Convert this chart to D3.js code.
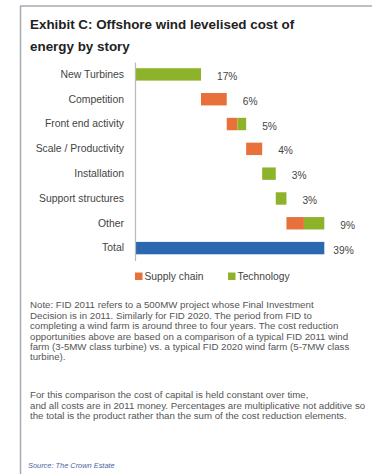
<!DOCTYPE html>
<html><head><meta charset="utf-8">
<script src="https://cdn.jsdelivr.net/npm/d3@7"></script>
<style>
body{margin:0;background:#fff;}
svg{display:block;}
</style></head>
<body>
<svg id="c" width="372" height="474"></svg>
<script>
// ---- data ----
const categories = ["New Turbines","Competition","Front end activity","Scale / Productivity","Installation","Support structures","Other","Total"];
const supplyChain = [0, 5.3, 2.2, 3.3, 0, 0, 3.6];
const technology  = [13.6, 0, 1.8, 0, 2.8, 2.2, 4.2];
const totalValue = 39;
const valueLabels = ["17%","6%","5%","4%","3%","3%","9%","39%"];
const seriesNames = ["Supply chain","Technology"];
const titleLines = ["Exhibit C: Offshore wind levelised cost of","energy by story"];
const note1 = ["Note: FID 2011 refers to a 500MW project whose Final Investment",
 "Decision is in 2011. Similarly for FID 2020. The period from FID to",
 "completing a wind farm is around three to four years. The cost reduction",
 "opportunities above are based on a comparison of a typical FID 2011 wind",
 "farm (3-5MW class turbine) vs. a typical FID 2020 wind farm (5-7MW class",
 "turbine)."];
const note2 = ["For this comparison the cost of capital is held constant over time,",
 "and all costs are in 2011 money. Percentages are multiplicative not additive so",
 "the total is the product rather than the sum of the cost reduction elements."];
const sourceText = "Source: The Crown Estate";

// ---- drawing ----
const svg = d3.select("#c");
const colors = {supply:"#e8703a", tech:"#8db32b", total:"#2c68b0"};
const font = "'Liberation Sans', Arial, sans-serif";

// frame
svg.append("line").attr("x1",20).attr("x2",372).attr("y1",6).attr("y2",6).attr("stroke","#a9a9b0").attr("stroke-width",1.5);
svg.append("line").attr("x1",20.5).attr("x2",20.5).attr("y1",6).attr("y2",474).attr("stroke","#a9a9b0").attr("stroke-width",1.5);

// title
svg.append("g").selectAll("text").data(titleLines).join("text")
  .attr("x",30).attr("y",(d,i)=>29+i*22)
  .attr("font-family",font).attr("font-weight","bold").attr("font-size",13.4)
  .attr("fill","#222").text(d=>d);

const x = d3.scaleLinear().domain([0, totalValue]).range([135, 324.3]);
const y = d3.scaleBand().domain(categories).range([62, 260.5]).paddingInner(0.5).paddingOuter(0.25);

// waterfall segments
const segs = [];
let cum = 0;
categories.slice(0,-1).forEach((c,i)=>{
  const s = supplyChain[i], t = technology[i];
  if (s>0) segs.push({c, x0:cum, x1:cum+s, col:colors.supply});
  if (t>0) segs.push({c, x0:cum+s, x1:cum+s+t, col:colors.tech});
  cum += s+t;
});
segs.push({c:"Total", x0:0, x1:totalValue, col:colors.total});

const ends = {};
segs.forEach(d=>{ ends[d.c] = Math.max(ends[d.c]||0, d.x1); });

svg.append("g").selectAll("rect").data(segs).join("rect")
  .attr("x",d=>x(d.x0)).attr("width",d=>x(d.x1)-x(d.x0))
  .attr("y",d=>y(d.c)).attr("height",y.bandwidth())
  .attr("fill",d=>d.col);

// axis (vertical line with category labels)
const ax = svg.append("g").attr("transform","translate(135,0)")
  .call(d3.axisLeft(y).tickSize(0).tickPadding(11));
ax.select(".domain").attr("stroke","#b8b8b8").attr("stroke-width",1.2);
ax.selectAll("text").attr("font-family",font).attr("font-size",10.4).attr("fill","#444");

// value labels
svg.append("g").selectAll("text").data(categories).join("text")
  .attr("x",(d,i)=> x(ends[d]) + (i===categories.length-1?9:16))
  .attr("y",d=>y(d)+y.bandwidth()/2+2)
  .attr("dy","0.35em")
  .attr("font-family",font).attr("font-size",10.2).attr("fill","#444")
  .text((d,i)=>valueLabels[i]);

// legend
const lg = svg.append("g").attr("transform","translate(135,276)");
const items = lg.selectAll("g").data(seriesNames).join("g")
  .attr("transform",(d,i)=>`translate(${i*93},0)`);
items.append("rect").attr("x",0).attr("y",-3.5).attr("width",7.5).attr("height",7.5)
  .attr("fill",(d,i)=>i===0?colors.supply:colors.tech);
items.append("text").attr("x",9.5).attr("y",0).attr("dy","0.35em")
  .attr("font-family",font).attr("font-size",10.3).attr("fill","#444").text(d=>d);

// notes
function para(lines, y0){
  svg.append("g").selectAll("text").data(lines).join("text")
   .attr("x",30).attr("y",(d,i)=>y0+i*10.4).attr("dy","0.35em")
   .attr("font-family",font).attr("font-size",9.7).attr("fill","#555").text(d=>d);
}
para(note1, 305);
para(note2, 395);

svg.append("text").attr("x",28).attr("y",465).attr("dy","0.35em")
  .attr("font-family",font).attr("font-style","italic").attr("font-size",7.4)
  .attr("fill","#4a66a0").text(sourceText);
</script>
</body></html>
